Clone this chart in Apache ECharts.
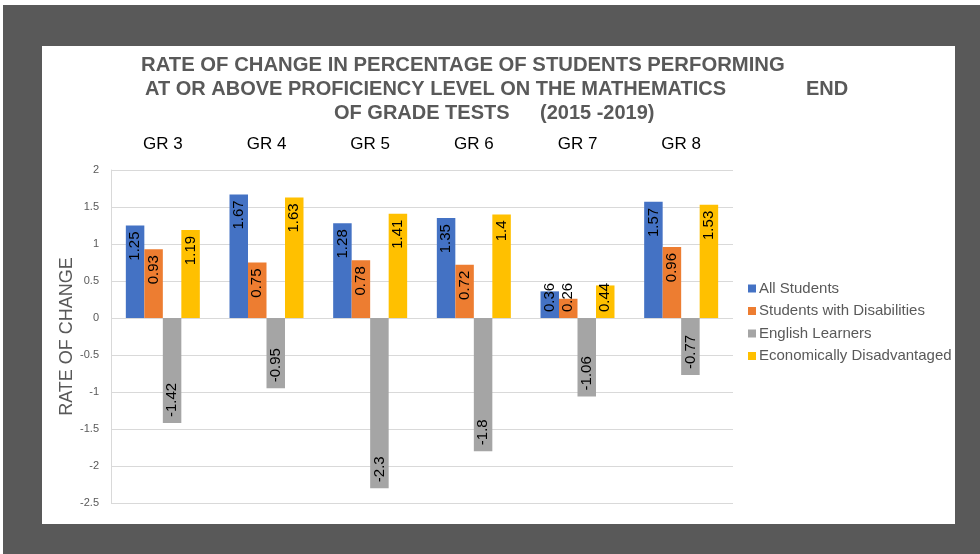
<!DOCTYPE html>
<html>
<head>
<meta charset="utf-8">
<script src="https://cdn.jsdelivr.net/npm/echarts@6/dist/echarts.min.js"></script>
<style>
  html, body { margin: 0; padding: 0; background: #fff; }
  #chart { width: 980px; height: 554px; }
</style>
</head>
<body>
<div id="chart"></div>
<script>
// 数据
const categories = ['GR 3', 'GR 4', 'GR 5', 'GR 6', 'GR 7', 'GR 8'];
const allStudents = [1.25, 1.67, 1.28, 1.35, 0.36, 1.57];
const withDisabilities = [0.93, 0.75, 0.78, 0.72, 0.26, 0.96];
const englishLearners = [-1.42, -0.95, -2.3, -1.8, -1.06, -0.77];
const econDisadvantaged = [1.19, 1.63, 1.41, 1.4, 0.44, 1.53];
const seriesNames = ['All Students', 'Students with Disabilities', 'English Learners', 'Economically Disadvantaged'];
const colors = ['#4472C4', '#ED7D31', '#A5A5A5', '#FFC000'];
const yMin = -2.5, yMax = 2, yStep = 0.5;

const frameColor = '#595959';
const titleColor = '#595959';

// 标签位置：正值在柱顶内侧，负值在柱底内侧，短柱从基线开始
function labelFor(v) {
  if (v < 0) {
    return { position: 'insideBottom', align: 'left', verticalAlign: 'middle' };
  }
  if (v < 0.5) {
    return { position: 'insideBottom', align: 'left', verticalAlign: 'middle' };
  }
  return { position: 'insideTop', align: 'right', verticalAlign: 'middle' };
}

function makeSeries(name, values, color) {
  return {
    type: 'bar',
    name: name,
    barWidth: 18.5,
    barGap: '0%',
    itemStyle: { color: color },
    label: {
      show: true,
      rotate: 90,
      distance: 6,
      fontSize: 15,
      fontFamily: 'Liberation Sans',
      color: '#000',
      formatter: '{c}'
    },
    data: values.map(function (v) {
      return { value: v, label: labelFor(v) };
    })
  };
}

function titleText(text, x, y, size) {
  return {
    type: 'text',
    left: x,
    top: y,
    style: { text: text, font: 'bold ' + size + 'px "Liberation Sans", Arial, sans-serif', fill: titleColor }
  };
}

const option = {
  backgroundColor: '#fff',
  animation: false,
  textStyle: { fontFamily: 'Liberation Sans' },
  grid: { left: 111, right: 247, top: 170, bottom: 51, containLabel: false },
  legend: {
    orient: 'vertical',
    left: 743,
    top: 276,
    itemWidth: 8,
    itemHeight: 8,
    itemGap: 7.5,
    icon: 'rect',
    textStyle: { color: '#595959', fontSize: 15, fontFamily: 'Liberation Sans', lineHeight: 15, padding: [0, 0, 0, -2] },
    data: seriesNames
  },
  xAxis: {
    type: 'category',
    position: 'top',
    data: categories,
    axisLine: { show: false },
    axisTick: { show: false },
    axisLabel: { color: '#000', fontSize: 17, margin: 17 }
  },
  yAxis: {
    type: 'value',
    min: yMin,
    max: yMax,
    interval: yStep,
    name: 'RATE OF CHANGE',
    nameLocation: 'middle',
    nameGap: 35,
    nameMoveOverlap: false,
    nameTextStyle: { color: '#595959', fontSize: 18 },
    axisLine: { show: true, lineStyle: { color: '#d9d9d9' } },
    axisTick: { show: false },
    axisLabel: { color: '#595959', fontSize: 11, margin: 12 },
    splitLine: { lineStyle: { color: '#d9d9d9' } }
  },
  graphic: [
    // 灰色外框
    { type: 'rect', z: 100, shape: { x: 3, y: 5, width: 977, height: 41 }, style: { fill: frameColor } },
    { type: 'rect', z: 100, shape: { x: 3, y: 46, width: 39, height: 508 }, style: { fill: frameColor } },
    { type: 'rect', z: 100, shape: { x: 955, y: 46, width: 25, height: 508 }, style: { fill: frameColor } },
    { type: 'rect', z: 100, shape: { x: 3, y: 524, width: 977, height: 30 }, style: { fill: frameColor } },
    // 标题
    titleText('RATE OF CHANGE IN PERCENTAGE OF STUDENTS PERFORMING', 141, 55, 20.3),
    titleText('AT OR ABOVE PROFICIENCY LEVEL ON THE MATHEMATICS', 145, 79, 20),
    titleText('END', 806, 79, 20),
    titleText('OF GRADE TESTS', 334, 103, 20),
    titleText('(2015 -2019)', 540, 103, 20)
  ],
  series: [
    makeSeries(seriesNames[0], allStudents, colors[0]),
    makeSeries(seriesNames[1], withDisabilities, colors[1]),
    makeSeries(seriesNames[2], englishLearners, colors[2]),
    makeSeries(seriesNames[3], econDisadvantaged, colors[3])
  ]
};

const myChart = echarts.init(document.getElementById('chart'), null, { renderer: 'canvas' });
myChart.setOption(option);
</script>
</body>
</html>
